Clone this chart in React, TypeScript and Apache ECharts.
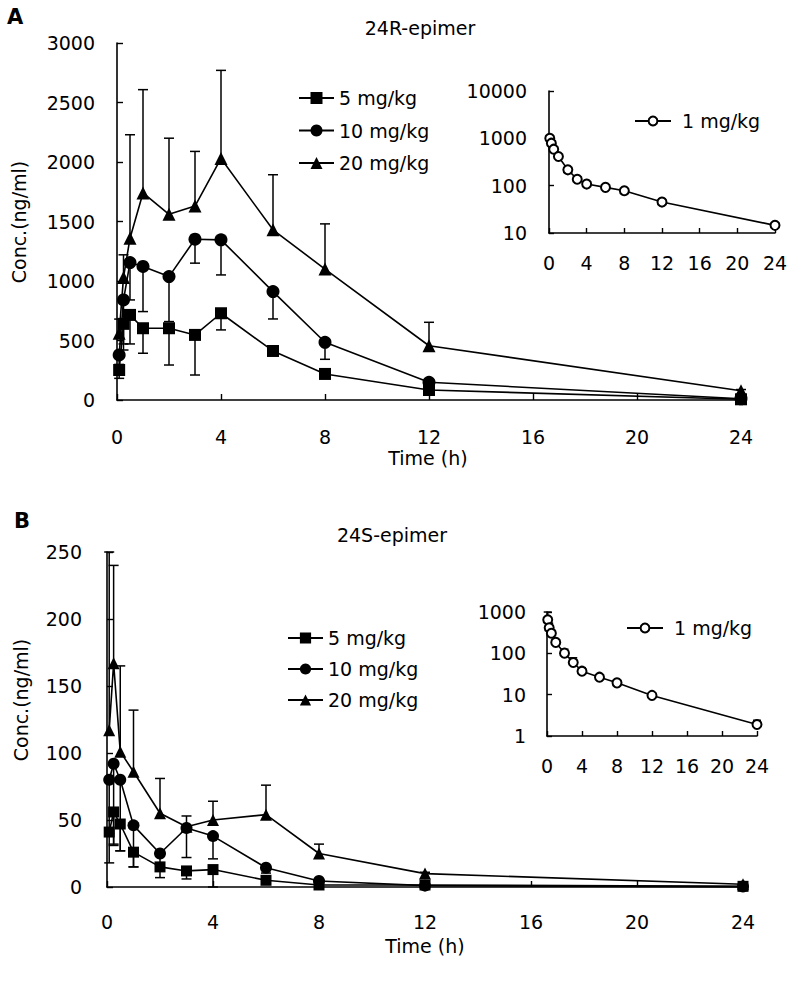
import React, { useEffect, useRef } from "react";
import * as echarts from "echarts";

const times = [0.083, 0.25, 0.5, 1, 2, 3, 4, 6, 8, 12, 24];

// Panel A: 24R-epimer
const a5 = [252, 640, 715, 603, 603, 547, 729, 412, 219, 84, 6];
const a5Sd = [70, 220, 244, 210, 309, 337, 140, 25, 30, 20, 3]; // drawn downward
const a10 = [379, 841, 1155, 1122, 1037, 1351, 1346, 911, 485, 149, 10];
const a10Sd = [80, 370, 314, 379, 378, 201, 295, 230, 143, 30, 5]; // downward
const a20 = [560, 1030, 1360, 1740, 1560, 1630, 2030, 1430, 1100, 456, 78];
const a20Sd = [120, 190, 869, 868, 640, 459, 740, 463, 380, 197, 10]; // upward
const a1 = [1000, 790, 590, 413, 216, 137, 108, 92, 78, 45, 14.5];
const a1Sd = [150, 100, 60, 40, 20, 12, 8, 8, 8, 8, 2];

// Panel B: 24S-epimer
const b5 = [41, 56, 47, 26, 15, 12, 13, 5, 1.5, 1.5, 0.5];
const b5Sd = [23, 25, 20, 11, 8, 6, 13, 2, 1, 0.5, 0.2];
const b10 = [80, 92, 80, 46, 25, 44, 38, 14.4, 4.5, 1, 0.3];
const b10Sd = [40, 60, 53, 31, 8, 22, 17, 4, 2, 0.5, 0.1];
const b20 = [117, 167, 101, 86, 55, 45, 50, 54, 25, 10, 2];
const b20Sd = [133, 73, 64, 46, 26, 8, 14, 22, 7, 1, 0.5];
const b1 = [649, 414, 306, 184, 101, 60, 37, 26.5, 19.3, 9.6, 1.9];
const b1Sd = [350, 120, 60, 30, 25, 18, 8, 3, 3, 1, 0.5];

const seriesNames = ["5 mg/kg", "10 mg/kg", "20 mg/kg"];
const insetName = "1 mg/kg";

const FONT = "DejaVu Sans";
const FS = 19;

function lineSeries(name: string, vals: number[], axis: number, symbol: string, size: number) {
  const empty = symbol === "emptyCircle";
  return {
    name,
    type: "line",
    xAxisIndex: axis,
    yAxisIndex: axis,
    data: times.map((t, i) => [t, vals[i]]),
    symbol,
    symbolSize: size,
    showAllSymbol: true,
    clip: false,
    z: 3,
    lineStyle: { color: "#000", width: 1.6 },
    itemStyle: { color: "#000", borderColor: "#000", borderWidth: empty ? 1.3 : 0 },
  };
}

function errSeries(vals: number[], sds: number[], axis: number, dir: number, cap: number) {
  return {
    type: "custom",
    xAxisIndex: axis,
    yAxisIndex: axis,
    silent: true,
    clip: false,
    z: 2,
    data: times.map((t, i) => [t, vals[i], vals[i] + dir * sds[i]]),
    renderItem: (params: any, api: any) => {
      const x = api.value(0);
      const p1 = api.coord([x, api.value(1)]);
      const p2 = api.coord([x, api.value(2)]);
      const st = { stroke: "#000", lineWidth: 1.5 };
      return {
        type: "group",
        children: [
          { type: "line", shape: { x1: p1[0], y1: p1[1], x2: p2[0], y2: p2[1] }, style: st },
          { type: "line", shape: { x1: p2[0] - cap, y1: p2[1], x2: p2[0] + cap, y2: p2[1] }, style: st },
        ],
      };
    },
  };
}

const axisLine = { show: true, lineStyle: { color: "#000", width: 1.6 } };
const label = (margin: number) => ({
  color: "#000",
  fontFamily: FONT,
  fontSize: FS,
  margin,
  formatter: (v: number) => String(v),
});

function xAxis(grid: number, margin: number, tickLen: number) {
  return {
    type: "value",
    gridIndex: grid,
    min: 0,
    max: 24,
    interval: 4,
    axisLine,
    axisTick: { show: true, inside: true, length: tickLen, lineStyle: { color: "#000", width: 1.4 } },
    axisLabel: label(margin),
    splitLine: { show: false },
  };
}

export default function App() {
  const ref = useRef<HTMLDivElement>(null);
  useEffect(() => {
    if (!ref.current) return;
    const chart = echarts.init(ref.current, undefined, { renderer: "svg" });
    const legendText = { color: "#000", fontFamily: FONT, fontSize: FS, lineHeight: 20 };
    const option: any = {
      animation: false,
      backgroundColor: "#fff",
      grid: [
        { left: 117, top: 43, width: 624, height: 357 },
        { left: 549, top: 91, width: 226, height: 142 },
        { left: 107, top: 552, width: 636, height: 335 },
        { left: 547, top: 612, width: 210, height: 124 },
      ],
      xAxis: [xAxis(0, 27, 6), xAxis(1, 20, 5), xAxis(2, 25, 6), xAxis(3, 20, 5)],
      yAxis: [
        {
          type: "value", gridIndex: 0, min: 0, max: 3000, interval: 500, axisLine,
          axisTick: { show: true, inside: true, length: 6, lineStyle: { color: "#000", width: 1.4 } },
          axisLabel: label(22), splitLine: { show: false },
        },
        {
          type: "log", logBase: 10, gridIndex: 1, min: 10, max: 10000, axisLine,
          axisTick: { show: true, inside: true, length: 5, lineStyle: { color: "#000", width: 1.4 } },
          minorTick: { show: false },
          axisLabel: label(22), splitLine: { show: false },
        },
        {
          type: "value", gridIndex: 2, min: 0, max: 250, interval: 50, axisLine,
          axisTick: { show: true, inside: true, length: 6, lineStyle: { color: "#000", width: 1.4 } },
          axisLabel: label(25), splitLine: { show: false },
        },
        {
          type: "log", logBase: 10, gridIndex: 3, min: 1, max: 1000, axisLine,
          axisTick: { show: true, inside: true, length: 5, lineStyle: { color: "#000", width: 1.4 } },
          minorTick: { show: false },
          axisLabel: label(21), splitLine: { show: false },
        },
      ],
      legend: [
        {
          data: seriesNames, orient: "vertical", left: 298, top: 88, itemWidth: 35, itemHeight: 15,
          itemGap: 12.5, selectedMode: false, textStyle: legendText, padding: 0,
        },
        {
          data: [insetName], orient: "vertical", left: 634, top: 111, itemWidth: 36, itemHeight: 11,
          selectedMode: false, textStyle: { ...legendText, padding: [0, 0, 0, 6] }, padding: 0,
        },
        {
          data: seriesNames, orient: "vertical", left: 287, top: 628, itemWidth: 35, itemHeight: 14,
          itemGap: 11, selectedMode: false, textStyle: legendText, padding: 0,
        },
        {
          data: [insetName], orient: "vertical", left: 626, top: 618, itemWidth: 36, itemHeight: 11,
          selectedMode: false, textStyle: { ...legendText, padding: [0, 0, 0, 6] }, padding: 0,
        },
      ],
      graphic: [
        { type: "text", left: 7, top: 6, style: { text: "A", font: `bold 21px '${FONT}'`, fill: "#000" } },
        { type: "text", left: 14, top: 510, style: { text: "B", font: `bold 21px '${FONT}'`, fill: "#000" } },
        { type: "text", x: 420, y: 28, style: { text: "24R-epimer", font: `${FS}px '${FONT}'`, fill: "#000", align: "center", verticalAlign: "middle" } },
        { type: "text", x: 392, y: 535, style: { text: "24S-epimer", font: `${FS}px '${FONT}'`, fill: "#000", align: "center", verticalAlign: "middle" } },
        { type: "text", x: 428, y: 458, style: { text: "Time (h)", font: `${FS}px '${FONT}'`, fill: "#000", align: "center", verticalAlign: "middle" } },
        { type: "text", x: 425, y: 946, style: { text: "Time (h)", font: `${FS}px '${FONT}'`, fill: "#000", align: "center", verticalAlign: "middle" } },
        { type: "text", x: 19, y: 222, rotation: Math.PI / 2, style: { text: "Conc.(ng/ml)", font: `${FS}px '${FONT}'`, fill: "#000", align: "center", verticalAlign: "middle" } },
        { type: "text", x: 21, y: 700, rotation: Math.PI / 2, style: { text: "Conc.(ng/ml)", font: `${FS}px '${FONT}'`, fill: "#000", align: "center", verticalAlign: "middle" } },
      ],
      series: [
        errSeries(a5, a5Sd, 0, -1, 5),
        errSeries(a10, a10Sd, 0, -1, 5),
        errSeries(a20, a20Sd, 0, 1, 5),
        lineSeries(seriesNames[0], a5, 0, "rect", 12),
        lineSeries(seriesNames[1], a10, 0, "circle", 13),
        lineSeries(seriesNames[2], a20, 0, "triangle", 13),
        errSeries(a1, a1Sd, 1, 1, 4),
        lineSeries(insetName, a1, 1, "emptyCircle", 9),
        errSeries(b5, b5Sd, 2, -1, 5),
        errSeries(b10, b10Sd, 2, -1, 5),
        errSeries(b20, b20Sd, 2, 1, 5),
        lineSeries(seriesNames[0], b5, 2, "rect", 11),
        lineSeries(seriesNames[1], b10, 2, "circle", 12),
        lineSeries(seriesNames[2], b20, 2, "triangle", 12),
        errSeries(b1, b1Sd, 3, 1, 4),
        lineSeries(insetName, b1, 3, "emptyCircle", 9),
      ],
    };
    chart.setOption(option);
    return () => chart.dispose();
  }, []);
  return <div ref={ref} style={{ position: "absolute", left: 0, top: 0, width: 793, height: 984 }} />;
}
